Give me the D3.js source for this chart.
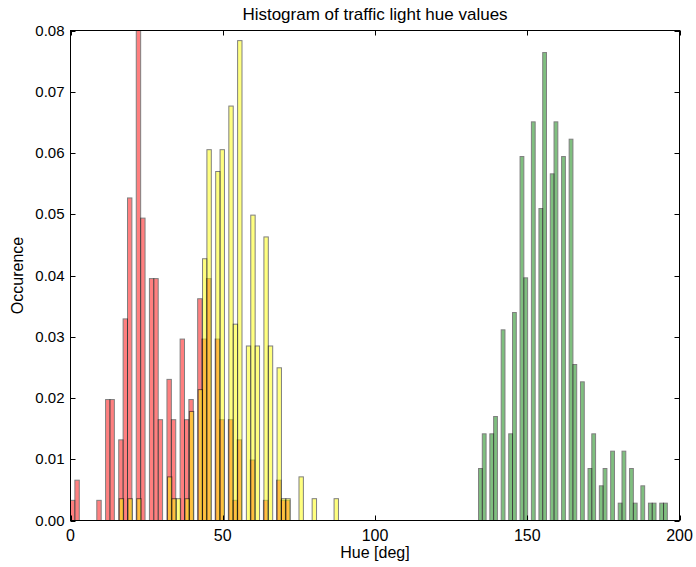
<!DOCTYPE html>
<html>
<head>
<meta charset="utf-8">
<script src="https://cdn.jsdelivr.net/npm/d3@7"></script>
<style>
  body { margin: 0; background: #fff; }
  text { font-family: "Liberation Sans", Arial, sans-serif; fill: #000; }
</style>
</head>
<body>
<svg width="696" height="567"></svg>
<script>
// hue values (deg) and how many samples fell on each one
const redHue = [0, 2, 4, 6, 8, 10, 12, 14, 16, 18, 20, 22, 24, 26, 28, 30, 32, 34, 36,
    38, 40, 42, 44, 46, 48, 50, 52, 54, 56, 58, 60, 62, 64, 66, 68, 70, 72];
const redCount = [1, 2, 0, 0, 0, 1, 6, 6, 4, 10, 16, 25, 15, 12, 12, 5, 7, 5, 9,
    5, 6, 11, 9, 12, 9, 5, 5, 1, 4, 0, 3, 0, 1, 0, 2, 1, 1];

const yellowHue = [16, 18, 20, 22, 24, 26, 28, 30, 32, 34, 36, 38, 40, 42, 44, 46, 48, 50, 52,
    54, 56, 58, 60, 62, 64, 66, 68, 70, 72, 74, 76, 78, 80, 82, 84, 86, 88];
const yellowCount = [1, 0, 1, 1, 0, 0, 0, 0, 2, 1, 1, 1, 5, 6, 12, 17, 16, 17, 19,
    9, 22, 8, 14, 8, 13, 8, 7, 1, 1, 0, 2, 0, 1, 0, 0, 0, 1];

const greenHue = [134, 136, 138, 140, 142, 144, 146, 148, 150, 152, 154, 156, 158, 160, 162, 164,
    166, 168, 170, 172, 174, 176, 178, 180, 182, 184, 186, 188, 190, 192, 194, 196];
const greenCount = [3, 5, 5, 6, 11, 5, 12, 21, 14, 23, 18, 27, 20, 23, 21, 22,
    9, 8, 3, 5, 2, 3, 4, 1, 4, 3, 1, 2, 1, 1, 1, 1];

const xTicks = [0, 50, 100, 150, 200];
const yTicks = [0, 0.01, 0.02, 0.03, 0.04, 0.05, 0.06, 0.07, 0.08];

const nBins = 50;

const svg = d3.select("svg");

const pLeft = 70.5, pRight = 679.5, pTop = 30.5, pBottom = 520.5;

const x = d3.scaleLinear()
    .domain([0, 200])
    .range([pLeft, pRight]);

const y = d3.scaleLinear()
    .domain([0, 0.08])
    .range([pBottom, pTop]);

svg.append("clipPath")
    .attr("id", "plotArea")
    .append("rect")
    .attr("x", pLeft)
    .attr("y", pTop)
    .attr("width", pRight - pLeft)
    .attr("height", pBottom - pTop);

const plot = svg.append("g").attr("clip-path", "url(#plotArea)");

function drawHist(hues, counts, color) {

    let samples = [];
    hues.forEach(function(h, i) {
        for (let k = 0; k < counts[i]; k++) samples.push(h);
    });

    let ext = d3.extent(samples);
    let thresholds = d3.range(1, nBins).map(i => ext[0] + i * (ext[1] - ext[0]) / nBins);

    let bins = d3.bin()
        .domain(ext)
        .thresholds(thresholds)(samples);

    let n = samples.length;

    plot.append("g")
        .selectAll("rect")
        .data(bins.filter(b => b.length > 0))
        .enter()
        .append("rect")
        .attr("x", d => x(d.x0))
        .attr("width", d => x(d.x1) - x(d.x0))
        .attr("y", d => y(d.length / (n * (d.x1 - d.x0))))
        .attr("height", d => pBottom - y(d.length / (n * (d.x1 - d.x0))))
        .attr("fill", color)
        .attr("stroke", "#000")
        .attr("stroke-width", 1)
        .attr("opacity", 0.5);
}

drawHist(redHue, redCount, "#ff0000");
drawHist(yellowHue, yellowCount, "#ffff00");
drawHist(greenHue, greenCount, "#008000");

// frame
svg.append("rect")
    .attr("x", pLeft)
    .attr("y", pTop)
    .attr("width", pRight - pLeft)
    .attr("height", pBottom - pTop)
    .attr("fill", "none")
    .attr("stroke", "#000")
    .attr("stroke-width", 1);

const tickLen = 5;

// x ticks, bottom and top, pointing in
xTicks.forEach(function(t) {
    let px = Math.round(x(t)) + 0.5;
    svg.append("line").attr("x1", px).attr("x2", px)
        .attr("y1", pBottom).attr("y2", pBottom - tickLen).attr("stroke", "#000");
    svg.append("line").attr("x1", px).attr("x2", px)
        .attr("y1", pTop).attr("y2", pTop + tickLen).attr("stroke", "#000");
    svg.append("text")
        .attr("x", x(t))
        .attr("y", pBottom + 20)
        .attr("text-anchor", "middle")
        .style("font-size", "16px")
        .text(t);
});

// y ticks, left and right
yTicks.forEach(function(t) {
    let py = Math.round(y(t)) + 0.5;
    svg.append("line").attr("x1", pLeft).attr("x2", pLeft + tickLen)
        .attr("y1", py).attr("y2", py).attr("stroke", "#000");
    svg.append("line").attr("x1", pRight).attr("x2", pRight - tickLen)
        .attr("y1", py).attr("y2", py).attr("stroke", "#000");
    svg.append("text")
        .attr("x", pLeft - 6)
        .attr("y", y(t) + 5)
        .attr("text-anchor", "end")
        .style("font-size", "15px")
        .text(d3.format(".2f")(t));
});

svg.append("text")
    .attr("x", (pLeft + pRight) / 2)
    .attr("y", 20)
    .attr("text-anchor", "middle")
    .style("font-size", "17px")
    .text("Histogram of traffic light hue values");

svg.append("text")
    .attr("x", (pLeft + pRight) / 2)
    .attr("y", 558)
    .attr("text-anchor", "middle")
    .style("font-size", "16px")
    .text("Hue [deg]");

svg.append("text")
    .attr("transform", "translate(23," + ((pTop + pBottom) / 2) + ") rotate(-90)")
    .attr("text-anchor", "middle")
    .style("font-size", "16px")
    .text("Occurence");
</script>
</body>
</html>
